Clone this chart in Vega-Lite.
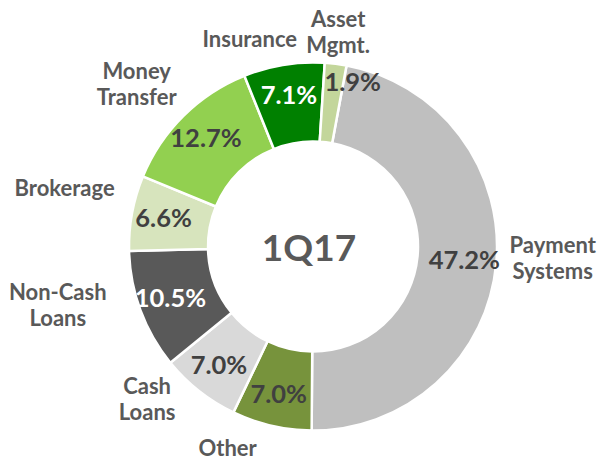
{
  "$schema": "https://vega.github.io/schema/vega-lite/v6.json",
  "autosize": "none",
  "width": 574,
  "height": 427,
  "padding": {"left": 26, "top": 33, "right": 0, "bottom": 0},
  "background": "white",
  "config": {"view": {"stroke": null}},
  "layer": [
    {
      "data": {"values": [
        {"idx": 1, "category": "Payment Systems", "name": "Payment\nSystems", "value": 47.2, "pct": "47.2%"},
        {"idx": 2, "category": "Other", "name": "Other", "value": 7.0, "pct": "7.0%"},
        {"idx": 3, "category": "Cash Loans", "name": "Cash\nLoans", "value": 7.0, "pct": "7.0%"},
        {"idx": 4, "category": "Non-Cash Loans", "name": "Non-Cash\nLoans", "value": 10.5, "pct": "10.5%"},
        {"idx": 5, "category": "Brokerage", "name": "Brokerage", "value": 6.6, "pct": "6.6%"},
        {"idx": 6, "category": "Money Transfer", "name": "Money\nTransfer", "value": 12.7, "pct": "12.7%"},
        {"idx": 7, "category": "Insurance", "name": "Insurance", "value": 7.1, "pct": "7.1%"},
        {"idx": 8, "category": "Asset Mgmt.", "name": "Asset\nMgmt.", "value": 1.9, "pct": "1.9%"}
      ]},
      "encoding": {
        "theta": {"field": "value", "type": "quantitative", "stack": true, "scale": {"range": [0.1833, 6.4665]}},
        "order": {"field": "idx", "type": "quantitative", "sort": "ascending"},
        "detail": {"field": "category", "type": "nominal"}
      },
      "layer": [
        {
          "mark": {"type": "arc", "radius": 184, "radius2": 105, "stroke": "white", "strokeWidth": 2.5},
          "encoding": {
            "color": {
              "field": "category", "type": "nominal", "legend": null,
              "scale": {
                "domain": ["Payment Systems", "Other", "Cash Loans", "Non-Cash Loans", "Brokerage", "Money Transfer", "Insurance", "Asset Mgmt."],
                "range": ["#bfbfbf", "#77933c", "#d9d9d9", "#595959", "#d7e4bd", "#92d050", "#008000", "#c3d69b"]
              }
            }
          }
        },
        {
          "mark": {"type": "text", "radius": 152, "font": "Lato", "fontWeight": "bold", "fontSize": 25.5, "baseline": "middle"},
          "encoding": {
            "text": {"condition": {"test": "datum.category !== 'Asset Mgmt.'", "field": "pct"}, "value": ""},
            "color": {"condition": {"test": "datum.category === 'Insurance' || datum.category === 'Non-Cash Loans'", "value": "white"}, "value": "#404040"}
          }
        },
        {
          "mark": {"type": "text", "radius": 168, "thetaOffset": 0.115, "font": "Lato", "fontWeight": "bold", "fontSize": 25.5, "baseline": "middle", "color": "#404040"},
          "encoding": {
            "text": {"condition": {"test": "datum.category === 'Asset Mgmt.'", "field": "pct"}, "value": ""}
          }
        },
        {
          "mark": {"type": "text", "radius": 240, "thetaOffset": -0.044, "dy": -13, "font": "Lato", "fontWeight": "bold", "fontSize": 22, "lineHeight": 26, "lineBreak": "\n", "baseline": "middle", "color": "#595959"},
          "encoding": {"text": {"condition": {"test": "datum.category === 'Payment Systems'", "field": "name"}, "value": ""}}
        },
        {
          "mark": {"type": "text", "radius": 220, "thetaOffset": 0.171, "font": "Lato", "fontWeight": "bold", "fontSize": 22, "lineHeight": 26, "lineBreak": "\n", "baseline": "middle", "color": "#595959"},
          "encoding": {"text": {"condition": {"test": "datum.category === 'Other'", "field": "name"}, "value": ""}}
        },
        {
          "mark": {"type": "text", "radius": 226, "thetaOffset": 0.157, "dy": -13, "font": "Lato", "fontWeight": "bold", "fontSize": 22, "lineHeight": 26, "lineBreak": "\n", "baseline": "middle", "color": "#595959"},
          "encoding": {"text": {"condition": {"test": "datum.category === 'Cash Loans'", "field": "name"}, "value": ""}}
        },
        {
          "mark": {"type": "text", "radius": 262, "thetaOffset": 0.126, "dy": -13, "font": "Lato", "fontWeight": "bold", "fontSize": 22, "lineHeight": 26, "lineBreak": "\n", "baseline": "middle", "color": "#595959"},
          "encoding": {"text": {"condition": {"test": "datum.category === 'Non-Cash Loans'", "field": "name"}, "value": ""}}
        },
        {
          "mark": {"type": "text", "radius": 255, "thetaOffset": 0.045, "font": "Lato", "fontWeight": "bold", "fontSize": 22, "lineHeight": 26, "lineBreak": "\n", "baseline": "middle", "color": "#595959"},
          "encoding": {"text": {"condition": {"test": "datum.category === 'Brokerage'", "field": "name"}, "value": ""}}
        },
        {
          "mark": {"type": "text", "radius": 240, "thetaOffset": -0.044, "dy": -12, "font": "Lato", "fontWeight": "bold", "fontSize": 22, "lineHeight": 26, "lineBreak": "\n", "baseline": "middle", "color": "#595959"},
          "encoding": {"text": {"condition": {"test": "datum.category === 'Money Transfer'", "field": "name"}, "value": ""}}
        },
        {
          "mark": {"type": "text", "radius": 216, "thetaOffset": -0.138, "font": "Lato", "fontWeight": "bold", "fontSize": 22, "lineHeight": 26, "lineBreak": "\n", "baseline": "middle", "color": "#595959"},
          "encoding": {"text": {"condition": {"test": "datum.category === 'Insurance'", "field": "name"}, "value": ""}}
        },
        {
          "mark": {"type": "text", "radius": 218, "thetaOffset": -0.008, "dy": -10, "font": "Lato", "fontWeight": "bold", "fontSize": 22, "lineHeight": 26, "lineBreak": "\n", "baseline": "middle", "color": "#595959"},
          "encoding": {"text": {"condition": {"test": "datum.category === 'Asset Mgmt.'", "field": "name"}, "value": ""}}
        }
      ]
    },
    {
      "data": {"values": [{"t": "1Q17"}]},
      "mark": {"type": "text", "font": "Lato", "fontWeight": "bold", "fontSize": 37, "baseline": "middle", "color": "#595959", "dx": -4, "dy": 3},
      "encoding": {"text": {"field": "t", "type": "nominal"}}
    }
  ]
}
